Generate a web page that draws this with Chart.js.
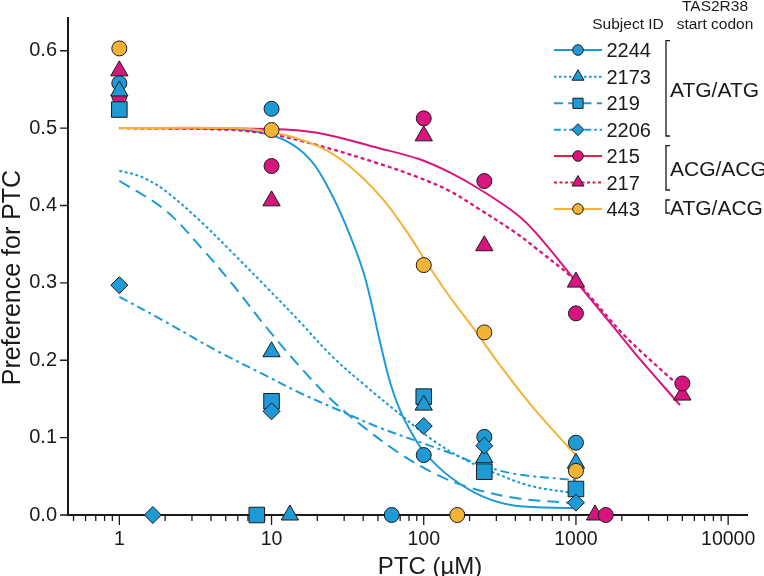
<!DOCTYPE html>
<html>
<head>
<meta charset="utf-8">
<style>
html,body{margin:0;padding:0;background:#fff;}
#wrap{width:764px;height:576px;position:relative;}
canvas{display:block;}
</style>
<script src="https://cdn.jsdelivr.net/npm/chart.js@4.4.1/dist/chart.umd.min.js"></script>
</head>
<body>
<div id="wrap"><canvas id="c" width="764" height="576"></canvas></div>
<script>
// ---------------- data ----------------
const doses = [1, 10, 100, 250, 1000];
const dosesACG = [1, 10, 100, 250, 1000, 5000];
const pref2244 = [0.558, 0.525, 0.0775, 0.101, 0.0935];
const pref2173 = [0.548, 0.211, 0.142, 0.074, 0.067];
const pref219  = [0.524, 0.147, 0.153, 0.056, 0.0336];
const pref2206 = [0.297, 0.134, 0.115, 0.0896, 0.0159];
const pref215  = [0.541, 0.451, 0.5126, 0.4316, 0.2606, 0.170];
const pref217  = [0.574, 0.406, 0.490, 0.348, 0.301, 0.155];
const pref443  = [0.603, 0.4975, 0.323, 0.236, 0.057];

// markers sitting on the x axis (preference 0)
const zeroSubjects = ['2206', '219', '2173', '2244', '443', '217', '215'];
const zeroDoses    = [1.66, 8.0, 13.2, 61.6, 166, 1335, 1570];

// fitted curves
const fit2244X = [1, 3, 7, 12, 18, 24, 31, 40, 46, 51, 60, 70, 85, 100, 147, 243, 400, 1000];
const fit2244Y = [0.5, 0.5, 0.497, 0.485, 0.459, 0.42, 0.373, 0.315, 0.268, 0.228, 0.172, 0.135, 0.103, 0.082, 0.05, 0.024, 0.012, 0.009];
const fit2173X = [1, 1.4, 2, 3.4, 5.6, 9.2, 15.3, 25, 42, 69, 114, 189, 313, 517, 1000];
const fit2173Y = [0.445, 0.437, 0.419, 0.38, 0.338, 0.295, 0.25, 0.205, 0.166, 0.131, 0.097, 0.071, 0.052, 0.037, 0.028];
const fit219X  = [1, 2, 3.4, 5.6, 9.2, 15.3, 25, 42, 69, 114, 189, 400, 1000];
const fit219Y  = [0.432, 0.394, 0.347, 0.297, 0.243, 0.192, 0.148, 0.111, 0.08, 0.055, 0.037, 0.022, 0.015];
const fit2206X = [1, 2, 4.3, 9.2, 15.3, 28, 51, 98, 154, 243, 400, 1000];
const fit2206Y = [0.282, 0.25, 0.213, 0.18, 0.158, 0.135, 0.113, 0.093, 0.079, 0.064, 0.053, 0.045];
const fit215X  = [1, 10, 20, 51, 93, 147, 233, 400, 544, 1000, 1820, 2590, 4830];
const fit215Y  = [0.5, 0.499, 0.494, 0.474, 0.46, 0.443, 0.421, 0.39, 0.365, 0.302, 0.24, 0.203, 0.142];
const fit217X  = [1, 5, 10, 20, 51, 93, 147, 233, 400, 544, 1000, 2120, 5000];
const fit217Y  = [0.5, 0.498, 0.492, 0.478, 0.454, 0.436, 0.419, 0.395, 0.365, 0.345, 0.302, 0.2304, 0.163];
const fit443X  = [1, 5, 10, 20, 32, 54, 80, 103, 147, 209, 313, 517, 1000];
const fit443Y  = [0.5, 0.5, 0.495, 0.477, 0.452, 0.408, 0.362, 0.328, 0.283, 0.243, 0.195, 0.14, 0.077];

// axis ticks
const xMajorTicks = [1, 10, 100, 1000, 10000];
const xTickLabels = ['1', '10', '100', '1000', '10000'];
const yTicks = [0, 0.1, 0.2, 0.3, 0.4, 0.5, 0.6];
const yTickLabels = ['0.0', '0.1', '0.2', '0.3', '0.4', '0.5', '0.6'];

// legend
const legendIds = ['2244', '2173', '219', '2206', '215', '217', '443'];
const groupLabels = ['ATG/ATG', 'ACG/ACG', 'ATG/ACG'];

// ---------------- styles ----------------
const BLUE = '#1e9bd7', MAG = '#d8157f', ORANGE = '#f6b234', RED = '#e2203f', INK = '#1a1a1a';
const FONT = "'Liberation Sans', Arial, Helvetica, sans-serif";

const style = {
  '2244': {color: BLUE,   lcolor: BLUE,   shape: 'circle',   r: 7.5, dash: [],          lr: 5.3},
  '2173': {color: BLUE,   lcolor: BLUE,   shape: 'triangle', r: 10,  dash: [3, 2.5],    lr: 7},
  '219':  {color: BLUE,   lcolor: BLUE,   shape: 'rect',     r: 11,  dash: [12, 7],     lr: 7.2},
  '2206': {color: BLUE,   lcolor: BLUE,   shape: 'rectRot',  r: 8.5, dash: [9, 4, 3, 4], lr: 6},
  '215':  {color: MAG,    lcolor: RED,    shape: 'circle',   r: 7.5, dash: [],          lr: 5.3},
  '217':  {color: MAG,    lcolor: RED,    shape: 'triangle', r: 10,  dash: [4, 3],      lr: 7},
  '443':  {color: ORANGE, lcolor: ORANGE, shape: 'circle',   r: 7.5, dash: [],          lr: 5.3}
};

function pairs(xs, ys) { return xs.map((x, i) => ({x: x, y: ys[i]})); }
function withZero(id, arr) {
  const k = zeroSubjects.indexOf(id);
  return arr.concat([{x: zeroDoses[k], y: 0}]);
}

function pointSet(id, xs, ys) {
  const s = style[id];
  return {
    label: id, data: withZero(id, pairs(xs, ys)), showLine: false,
    pointStyle: s.shape, pointRadius: s.r, pointHoverRadius: s.r,
    backgroundColor: s.color, borderColor: INK, borderWidth: 1, clip: false
  };
}
function curveSet(id, xs, ys, width) {
  const s = style[id];
  return {
    label: id + ' fit', data: pairs(xs, ys), showLine: true, pointRadius: 0,
    borderColor: s.color, borderWidth: width || 2, borderDash: s.dash,
    tension: 0.35, fill: false, clip: false
  };
}

// dataset 0 is drawn on top
const datasets = [
  pointSet('443', doses, pref443),
  pointSet('2206', doses, pref2206),
  pointSet('2173', doses, pref2173),
  pointSet('219', doses, pref219),
  pointSet('215', dosesACG, pref215),
  pointSet('2244', doses, pref2244),
  pointSet('217', dosesACG, pref217),
  curveSet('443', fit443X, fit443Y),
  curveSet('215', fit215X, fit215Y),
  curveSet('217', fit217X, fit217Y, 2.3),
  curveSet('2244', fit2244X, fit2244Y),
  curveSet('2173', fit2173X, fit2173Y),
  curveSet('219', fit219X, fit219Y),
  curveSet('2206', fit2206X, fit2206Y)
];

// all x tick positions (minor + major) inside the axis range
const X_MIN = 0.46, X_MAX = 13300;
const xAllTicks = [];
[0.1, 1, 10, 100, 1000, 10000].forEach(d => {
  for (let m = 1; m <= 9; m++) {
    const v = +(d * m).toPrecision(3);
    if (v >= X_MIN && v <= X_MAX) xAllTicks.push(v);
  }
});

const tickPlugin = {
  id: 'tickMarks',
  beforeDatasetsDraw(chart) {
    const ctx = chart.ctx, xs = chart.scales.x, ys = chart.scales.y;
    const area = chart.chartArea;
    ctx.save();
    ctx.strokeStyle = INK;
    ctx.lineWidth = 1.3;
    ctx.beginPath();
    xAllTicks.forEach(v => {
      const px = xs.getPixelForValue(v);
      const len = xMajorTicks.indexOf(v) >= 0 ? 10 : 6;
      ctx.moveTo(px, area.bottom);
      ctx.lineTo(px, area.bottom + len);
    });
    yTicks.forEach(v => {
      const py = ys.getPixelForValue(v);
      ctx.moveTo(area.left, py);
      ctx.lineTo(area.left - 8, py);
    });
    ctx.stroke();
    ctx.restore();
  }
};

const textPlugin = {
  id: 'texts',
  afterDraw(chart) {
    const ctx = chart.ctx;
    ctx.save();
    ctx.fillStyle = INK;
    // axis titles
    ctx.font = '24px ' + FONT;
    ctx.textAlign = 'center';
    ctx.textBaseline = 'alphabetic';
    ctx.fillText('PTC (\u00b5M)', 430, 573.5);
    ctx.save();
    ctx.translate(19.5, 277.5);
    ctx.rotate(-Math.PI / 2);
    ctx.font = '25px ' + FONT;
    ctx.fillText('Preference for PTC', 0, 0);
    ctx.restore();

    // legend header
    ctx.font = '15.5px ' + FONT;
    ctx.textAlign = 'center';
    ctx.fillText('TAS2R38', 715, 10.5);
    ctx.fillText('Subject ID', 628, 28.5);
    ctx.fillText('start codon', 715, 28.5);

    // legend rows
    const rowY = [50, 76.7, 103.3, 129.7, 156, 182.5, 209];
    legendIds.forEach((id, i) => {
      const s = style[id], y = rowY[i];
      ctx.save();
      ctx.strokeStyle = s.lcolor;
      ctx.lineWidth = 2;
      ctx.setLineDash(s.dash.length ? s.dash.map(d => Math.max(d * 0.75, 2.5)) : []);
      ctx.beginPath();
      ctx.moveTo(554, y);
      ctx.lineTo(602, y);
      ctx.stroke();
      ctx.setLineDash([]);
      ctx.fillStyle = s.color;
      ctx.strokeStyle = INK;
      ctx.lineWidth = 1;
      Chart.helpers.drawPoint(ctx, {pointStyle: s.shape, radius: s.lr, rotation: 0, borderWidth: 1}, 578, y);
      ctx.restore();
      ctx.font = '20px ' + FONT;
      ctx.textAlign = 'left';
      ctx.fillStyle = INK;
      ctx.fillText(id, 606.5, y + 7);
    });

    // group brackets
    const brackets = [[40.7, 136, 89], [145.7, 190, 168], [200, 213, 207.5]];
    ctx.strokeStyle = INK;
    ctx.lineWidth = 1.3;
    brackets.forEach((b, i) => {
      ctx.beginPath();
      ctx.moveTo(670, b[0]); ctx.lineTo(666, b[0]); ctx.lineTo(666, b[1]); ctx.lineTo(670, b[1]);
      ctx.stroke();
      ctx.font = '21px ' + FONT;
      ctx.textAlign = 'left';
      ctx.fillText(groupLabels[i], 670, b[2] + 7.5);
    });
    ctx.restore();
  }
};

new Chart(document.getElementById('c'), {
  type: 'scatter',
  data: {datasets: datasets},
  plugins: [tickPlugin, textPlugin],
  options: {
    responsive: false,
    animation: false,
    devicePixelRatio: 1,
    events: [],
    layout: {padding: {top: 18, right: 17, left: 0, bottom: 0}},
    plugins: {legend: {display: false}, tooltip: {enabled: false}},
    scales: {
      x: {
        type: 'logarithmic', min: X_MIN, max: X_MAX,
        afterFit: s => { s.height = 61; s.paddingLeft = 0; s.paddingRight = 0; },
        afterBuildTicks: s => { s.ticks = xMajorTicks.map(v => ({value: v})); },
        grid: {display: false, drawTicks: false},
        border: {display: true, color: INK, width: 2},
        ticks: {
          autoSkip: false, maxRotation: 0, padding: 13, color: INK,
          font: {family: FONT, size: 19.5},
          callback: v => { const k = xMajorTicks.indexOf(v); return k >= 0 ? xTickLabels[k] : ''; }
        }
      },
      y: {
        type: 'linear', min: 0, max: 0.6423,
        afterFit: s => { s.width = 68; s.paddingTop = 0; s.paddingBottom = 0; },
        afterBuildTicks: s => { s.ticks = yTicks.map(v => ({value: v})); },
        grid: {display: false, drawTicks: false},
        border: {display: true, color: INK, width: 2},
        ticks: {
          autoSkip: false, padding: 11, color: INK,
          font: {family: FONT, size: 20},
          callback: v => { const k = yTicks.indexOf(v); return k >= 0 ? yTickLabels[k] : ''; }
        }
      }
    }
  }
});
</script>
</body>
</html>
